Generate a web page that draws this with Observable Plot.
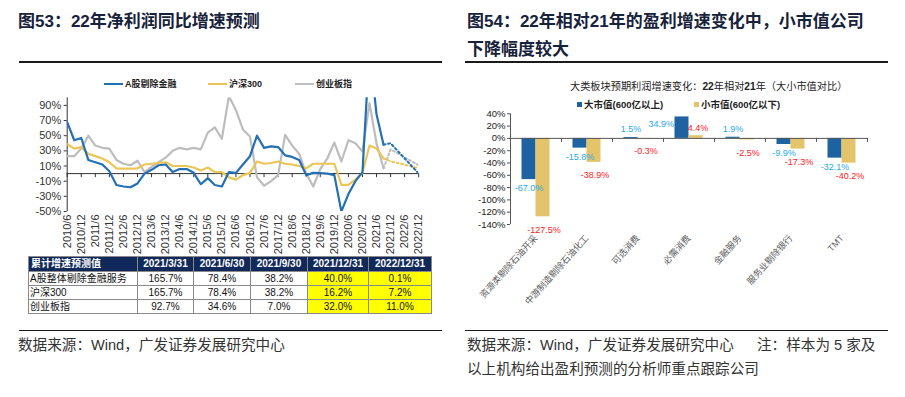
<!DOCTYPE html>
<html lang="zh-CN">
<head>
<meta charset="utf-8">
<script src="https://cdn.jsdelivr.net/npm/d3@7"></script>
<script src="https://cdn.jsdelivr.net/npm/@observablehq/plot@0.6"></script>
<style>
html,body{margin:0;padding:0;background:#fff;}
#page{position:relative;width:905px;height:397px;overflow:hidden;font-family:"Liberation Sans","Noto Sans CJK SC",sans-serif;}
.a{position:absolute;white-space:nowrap;}
.ttl{font-size:17px;font-weight:700;color:#17223b;line-height:17px;}
.hr{position:absolute;height:1.5px;background:#1a1a1a;}
.src{font-size:14.6px;color:#333;line-height:15px;}
.lg{position:absolute;font-size:9px;font-weight:700;color:#222;line-height:10px;white-space:nowrap;}
table#tbl{position:absolute;left:28px;top:256px;border-collapse:collapse;table-layout:fixed;font-size:10px;}
#tbl td,#tbl th{border:1px solid #8a8a8a;padding:0;height:13px;line-height:13px;text-align:center;white-space:nowrap;overflow:hidden;color:#111;}
#tbl th{background:#11295a;color:#fff;font-weight:700;height:14px;line-height:14px;}
#tbl th.nm{text-align:left;padding-left:2px;}
#tbl td.nm{text-align:left;padding-left:1px;}
#tbl td.hl{background:#ffff00;}
#barChart text.vlbl{letter-spacing:-0.35px;}
</style>
</head>
<body>
<div id="page">
  <div class="a ttl" style="left:18px;top:13px">图53：22年净利润同比增速预测</div>
  <div class="hr" style="left:19px;top:61px;width:423px"></div>
  <div id="lineChart" class="a" style="left:0;top:90px"></div>
  <table id="tbl"></table>
  <div class="hr" style="left:19px;top:329.5px;width:423px"></div>
  <div class="a src" style="left:18px;top:338px">数据来源：Wind，广发证券发展研究中心</div>

  <div class="a ttl" style="left:467px;top:13px">图54：22年相对21年的盈利增速变化中，小市值公司</div>
  <div class="a ttl" style="left:467px;top:41px">下降幅度较大</div>
  <div class="hr" style="left:465px;top:61px;width:423px"></div>
  <div class="a" style="left:570px;top:81px;font-size:10.2px;line-height:12px;color:#222">大类板块预期利润增速变化：<b>22</b>年相对<b>21</b>年（大小市值对比）</div>
  <div id="barChart" class="a" style="left:455px;top:100px"></div>
  <div class="hr" style="left:465px;top:329.5px;width:423px"></div>
  <div class="a src" style="left:467px;top:338px">数据来源：Wind，广发证券发展研究中心</div>
  <div class="a src" style="left:757px;top:338px">注：样本为 5 家及</div>
  <div class="a src" style="left:467px;top:362px">以上机构给出盈利预测的分析师重点跟踪公司</div>
</div>
<script>
// ---------------- DATA (left chart) ----------------
const seriesNames = ["A股剔除金融", "沪深300", "创业板指"];
const firstQuarter = "2010/6";
const xTickLabels = ["2010/6","2010/12","2011/6","2011/12","2012/6","2012/12","2013/6","2013/12","2014/6","2014/12","2015/6","2015/12","2016/6","2016/12","2017/6","2017/12","2018/6","2018/12","2019/6","2019/12","2020/6","2020/12","2021/6","2021/12","2022/6","2022/12"];
const yTicksLine = [-50, -30, -10, 10, 30, 50, 70, 90];
const aShareExFin = [68,44,47,18,15,12,3,-15,-17,-18,-13,0,5,11,12,2,6,6,1,-14,-6,-15,-17,2,1,12,23,50,34,36,35,24,22,18,-2,1,0.5,0,-2,-50,-27,-10,2,165.7,78.4,38.2];
const hs300 = [39,33,35,26,23,20,15,7,6.5,6.5,7,12,13,14,15,10,10,10,8,4,8,2,2,-5,-8,-2,1,16,13,14,16,13,12,10,7,13,13,13,13,-15,-15,-8,1,37,33,20];
const chinext = [23,23,33,50,37,34,33,18,13,11,17,2,9,15,21,30,34,32,34,32,54,61,46,102,84,58,49,-5,-16,-10,-2,51,37,26,0,-17,6,20,41,16,44,40,29,93,40,7];
const forecastQuarters = ["2021/9", "2021/12", "2022/12"];
const forecastA = [38.2, 40.0, 0.1];
const forecastHS = [20, 16.2, 7.2];
const forecastCYB = [7, 32.0, 11.0];

// table
const tableHeader = ["累计增速预测值", "2021/3/31", "2021/6/30", "2021/9/30", "2021/12/31", "2022/12/31"];
const tableRowNames = ["A股整体剔除金融服务", "沪深300", "创业板指"];
const tableValues = [
  ["165.7%", "78.4%", "38.2%", "40.0%", "0.1%"],
  ["165.7%", "78.4%", "38.2%", "16.2%", "7.2%"],
  ["92.7%", "34.6%", "7.0%", "32.0%", "11.0%"]
];
const highlightedCols = ["2021/12/31", "2022/12/31"];

// ---------------- DATA (right chart) ----------------
const sectors = ["资源类剔除石油开采", "中游制造剔除石油化工", "可选消费", "必需消费", "金融服务", "服务业剔除银行", "TMT"];
const barSeries = ["大市值(600亿以上)", "小市值(600亿以下)"];
const largeCap = [-67.0, -15.8, 1.5, 34.9, 1.9, -9.9, -32.1];
const smallCap = [-127.5, -38.9, -0.3, 4.4, -2.5, -17.3, -40.2];
const yTicksBar = [-140, -120, -100, -80, -60, -40, -20, 0, 20, 40];

// ---------------- STYLE ----------------
const lineColors = ["#2470b3", "#ebc657", "#bdbdbd"];
const barColors = ["#1f62a1", "#e3c46a"];
const labelColors = ["#2aa9e6", "#ff2020"];
const page = document.getElementById("page");

// ---------------- LEFT: legend ----------------
const lineLegendX = [104, 208, 295];
seriesNames.forEach((n, k) => {
  const sw = document.createElement("div");
  sw.style.cssText = `position:absolute;left:${lineLegendX[k]}px;top:83px;width:19px;height:2.2px;background:${lineColors[k]}`;
  page.appendChild(sw);
  const t = document.createElement("div");
  t.className = "lg";
  t.style.left = (lineLegendX[k] + 21) + "px";
  t.style.top = "79px";
  t.textContent = n;
  page.appendChild(t);
});

// ---------------- LEFT: line chart ----------------
const qIndex = s => { const [y, m] = s.split("/").map(Number); return (y - 2010) * 4 + (m - 6) / 3; };
const start = qIndex(firstQuarter);
const actual = (vals, name) => vals.map((v, i) => ({q: start + i, v, name}));
const forecast = (vals, name) => vals.map((v, k) => ({q: qIndex(forecastQuarters[k]), v, name}));
const tickIdx = xTickLabels.map(qIndex);
const actualSeries = [aShareExFin, hs300, chinext];
const forecastSeries = [forecastA, forecastHS, forecastCYB];
const drawOrder = [2, 1, 0];

const lineMarks = [
  Plot.axisY({ticks: yTicksLine, tickFormat: d => d + "%", tickSize: 3, tickPadding: 3, label: null, stroke: "#333", fill: "#333"}),
  Plot.axisX({ticks: tickIdx, tickFormat: i => xTickLabels[tickIdx.indexOf(i)], tickRotate: -90, tickSize: 0, tickPadding: 3, label: null, fill: "#333"}),
  Plot.ruleY([0], {stroke: "#333", strokeWidth: 1}),
  Plot.ruleX([tickIdx[0]], {stroke: "#333", strokeWidth: 1}),
  Plot.ruleX(tickIdx, {x: d => d, y1: 0, y2: -5.3, stroke: "#333", strokeWidth: 1})
];
drawOrder.forEach(k => {
  lineMarks.push(Plot.line(forecast(forecastSeries[k], seriesNames[k]), {x: "q", y: "v", stroke: lineColors[k], strokeWidth: 2, strokeDasharray: "2 2.6", clip: true}));
});
drawOrder.forEach(k => {
  lineMarks.push(Plot.line(actual(actualSeries[k], seriesNames[k]), {x: "q", y: "v", stroke: lineColors[k], strokeWidth: 2.2, clip: true}));
});

const lineChart = Plot.plot({
  width: 440, height: 165,
  marginLeft: 66.7, marginRight: 21.8, marginTop: 7.3, marginBottom: 44,
  style: {fontFamily: "'Liberation Sans', Arial, sans-serif", fontSize: "11px", color: "#333", background: "transparent"},
  x: {domain: [tickIdx[0], tickIdx[tickIdx.length - 1]], label: null},
  y: {domain: [-50, 100], label: null},
  marks: lineMarks
});
document.getElementById("lineChart").appendChild(lineChart);

// ---------------- LEFT: table ----------------
const colWidths = [109, 56, 57, 57, 61, 63];
const tbl = document.getElementById("tbl");
const cg = document.createElement("colgroup");
colWidths.forEach(w => { const c = document.createElement("col"); c.style.width = w + "px"; cg.appendChild(c); });
tbl.appendChild(cg);
const hr = document.createElement("tr");
tableHeader.forEach((h, j) => { const th = document.createElement("th"); th.textContent = h; if (j === 0) th.className = "nm"; hr.appendChild(th); });
tbl.appendChild(hr);
tableRowNames.forEach((n, r) => {
  const tr = document.createElement("tr");
  const td0 = document.createElement("td"); td0.className = "nm"; td0.textContent = n; tr.appendChild(td0);
  tableValues[r].forEach((v, j) => {
    const td = document.createElement("td");
    td.textContent = v;
    if (highlightedCols.includes(tableHeader[j + 1])) td.className = "hl";
    tr.appendChild(td);
  });
  tbl.appendChild(tr);
});

// ---------------- RIGHT: legend ----------------
const barLegendX = [577, 694];
barSeries.forEach((n, k) => {
  const sq = document.createElement("div");
  sq.style.cssText = `position:absolute;left:${barLegendX[k]}px;top:102px;width:5px;height:5px;background:${barColors[k]}`;
  page.appendChild(sq);
  const t = document.createElement("div");
  t.className = "lg";
  t.style.fontSize = "9.5px";
  t.style.left = (barLegendX[k] + 7) + "px";
  t.style.top = "99px";
  t.style.lineHeight = "12px";
  t.textContent = n;
  page.appendChild(t);
});

// ---------------- RIGHT: bar chart ----------------
const bw = 450, bml = 55, bmr = 38;
const step = (bw - bml - bmr) / sectors.length;
const rows = sectors.flatMap((s, k) => [
  {sector: s, series: barSeries[0], v: largeCap[k]},
  {sector: s, series: barSeries[1], v: smallCap[k]}
]);
const big = rows.filter(d => d.series === barSeries[0]);
const small = rows.filter(d => d.series === barSeries[1]);
const fmt = d => d.v.toFixed(1) + "%";
const lbl = {x: "sector", y: "v", text: fmt, fontSize: 9, className: "vlbl", fontFamily: "'Liberation Sans', Arial, sans-serif"};

const barChart = Plot.plot({
  width: bw, height: 215,
  marginLeft: bml, marginRight: bmr, marginTop: 13.3, marginBottom: 91,
  style: {fontFamily: "'Liberation Sans', 'Noto Sans CJK SC', sans-serif", fontSize: "9.5px", color: "#222", background: "transparent"},
  x: {domain: sectors, padding: 0, label: null},
  y: {domain: [-140, 40], label: null},
  marks: [
    Plot.axisY({ticks: yTicksBar, tickFormat: d => d + "%", tickSize: 3, tickPadding: 2, label: null, stroke: "#555", fill: "#222"}),
    Plot.axisX({tickRotate: -48, tickSize: 0, tickPadding: 12, label: null, fontSize: 9, fill: "#5a5a5a"}),
    Plot.barY(big, {x: "sector", y: "v", fill: barColors[0], insetLeft: 11.5, insetRight: 25.5}),
    Plot.barY(small, {x: "sector", y: "v", fill: barColors[1], insetLeft: 25.5, insetRight: 11.5}),
    Plot.ruleY([0], {stroke: "#555", strokeWidth: 1}),
    Plot.ruleX([sectors[0]], {dx: -step / 2, stroke: "#555", strokeWidth: 1}),
    Plot.ruleX(sectors, {x: d => d, y1: 0, y2: -6.5, dx: step / 2, stroke: "#555", strokeWidth: 1}),
    Plot.text(big.filter(d => d.v < 0), {...lbl, dx: -7, dy: 9, fill: labelColors[0]}),
    Plot.text(big.filter(d => d.v >= 0 && d.v < 20), {...lbl, dx: -7, dy: -8, fill: labelColors[0]}),
    Plot.text(big.filter(d => d.v >= 20), {...lbl, dx: -15, dy: 7, textAnchor: "end", fill: labelColors[0]}),
    Plot.text(small.filter(d => d.v < 0), {...lbl, dx: 8, dy: 13, fill: labelColors[1]}),
    Plot.text(small.filter(d => d.v >= 0), {...lbl, dx: 9, dy: -8, fill: labelColors[1]})
  ]
});
document.getElementById("barChart").appendChild(barChart);
</script>
</body>
</html>
